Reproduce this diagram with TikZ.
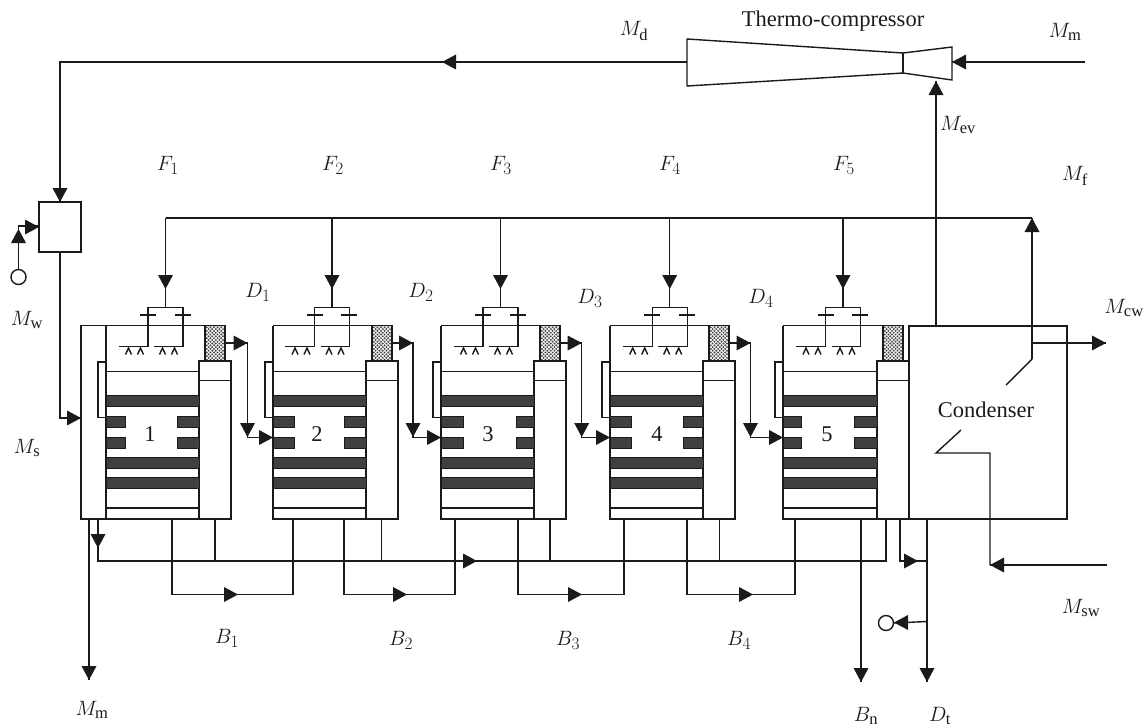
\documentclass[tikz,border=0pt]{standalone}
\usepackage{fontspec}
\setmainfont{Liberation Serif}
\DeclareMathSizes{21}{21}{16.5}{12}
\definecolor{ink}{HTML}{1A1A1A}
\definecolor{bar}{HTML}{404040}
\tikzset{
  pipe/.style={draw=ink,line width=1.4pt},
  barbox/.style={draw=ink,fill=bar,line width=1pt},
  lab/.style={inner sep=0pt,font=\fontsize{21}{24}\selectfont,text=ink},
  txt/.style={inner sep=0pt,font=\fontsize{22.5}{26}\selectfont,text=ink},
  openc/.style={draw=ink,line width=1.4pt,fill=white,circle,minimum size=15pt,inner sep=0pt}
}
\newcommand{\tipat}[3]{\fill[ink,shift={(#1,#2)},rotate=#3] (0,0)--(-14,7.5)--(-14,-7.5)--cycle;}
\newcommand{\meshat}[1]{%
  \begin{scope}
    \clip (#1,325.5) rectangle (#1+20,361);
    \fill[white] (#1,325.5) rectangle (#1+20,361);
    \foreach \i in {0,...,6}{\foreach \j in {0,...,10}{
      \fill[ink!80] (#1+\i*3.6,325.5+\j*3.6) circle (1.1);
      \fill[ink!80] (#1+\i*3.6+1.8,325.5+\j*3.6+1.8) circle (1.1);
    }}
  \end{scope}
  \draw[pipe] (#1,325.5) rectangle (#1+20,361);}
\begin{document}
\begin{tikzpicture}[x=1pt,y=-1pt]
\useasboundingbox (0,0) rectangle (1145,726);
% thermo-compressor
\draw[pipe] (687,39)--(903,53)--(952,47)--(952,80)--(903,73)--(687,86)--cycle;
\draw[pipe] (903,53)--(903,73);
\draw[pipe] (1085,62)--(952,62);\tipat{952}{62}{180}
\draw[pipe] (687,62)--(60,62)--(60,202);\tipat{442}{62}{180}\tipat{60}{202}{270}
% mixing box
\node[pipe,minimum width=42pt,minimum height=50pt,inner sep=0pt] (mix) at (60,227) {};
\node[openc] (cw) at (18.5,277) {};
\draw[pipe] (cw.north)--(18.5,226)--(39,226);\tipat{18.5}{229}{90}\tipat{39}{227}{0}
\draw[pipe] (mix.south)--(60,418)--(81,418);\tipat{81}{418}{0}
% feed header
\draw[pipe] (165.5,218)--(1032,218);
\draw[pipe] (81,325.5) rectangle (106,519);
% effects
\foreach \L/\F/\C/\lw/\rw/\num/\nx in {106/165.5/199/19/22/1/150,273/332/366/21/22/2/317,441/500.5/534/22/18/3/488,610/669.7/703/21/20/4/657,783/843/877/18/23/5/827}{
  \draw[pipe] (\F,218)--(\F,307);
  \tipat{\F}{289}{270}
  \draw[pipe] (\F-47,346.5)--(\F-17.5,346.5)--(\F-17.5,307.5)--(\F+17.5,307.5)--(\F+17.5,346.5)--(\F-11.5,346.5);
  \draw[pipe] (\F-25.5,315)--(\F-9.5,315) (\F+9,315)--(\F+25,315);
  \foreach \s in {-40,-28,-6,6}{
    \draw[pipe] (\F+\s,354.5)--(\F+\s+3,348)--(\F+\s+6,354.5);
  }
  \draw[pipe] (\L,325.5)--(\C+27,325.5);
  \draw[pipe] (\L,325.5)--(\L,519)--(\C,519);
  \draw[pipe] (\C,361)--(\C,519)--(\C+32,519)--(\C+32,361)--cycle;
  \draw[pipe] (\C,380.5)--(\C+32,380.5);
  \meshat{\C+6}
  \draw[pipe] (\L,371.5)--(\C,371.5);
  \draw[pipe] (\L,508)--(\C,508);
  \draw[pipe] (\L,362) rectangle (\L-8,417.5);
  \draw[barbox] (\L,395) rectangle (\C,406);
  \draw[barbox] (\L,457.5) rectangle (\C,468.5);
  \draw[barbox] (\L,477) rectangle (\C,488);
  \draw[barbox] (\L,416.5) rectangle (\L+\lw,427.5);
  \draw[barbox] (\L,437.5) rectangle (\L+\lw,448.5);
  \draw[barbox] (\C-\rw,416.5) rectangle (\C,427.5);
  \draw[barbox] (\C-\rw,437.5) rectangle (\C,448.5);
  \node[txt] (n\num) at (\nx,434) {\num};
}
% vapour links
\foreach \M/\V/\T in {226/247.5/273,392/413/441,560/581.7/610,729/750.5/783}{
  \draw[pipe] (\M,343)--(\V,343)--(\V,437.5)--(\T,437.5);
  \tipat{\V}{343}{0}\tipat{\V}{437}{270}\tipat{\T}{437.5}{0}
}
% condenser
\draw[pipe] (909,326) rectangle (1067,519);
\node[txt] (cond) at (986,410) {Condenser};
\draw[pipe] (936,326)--(936,81);\tipat{936}{81}{90}
\draw[pipe] (1032,359)--(1032,218);\tipat{1032}{218}{90}
\draw[pipe] (1006,385)--(1032,359);
\draw[pipe] (1032,343)--(1106,343);\tipat{1106}{343}{0}
\draw[pipe] (961,430)--(936,453)--(990,453)--(990,565);
\draw[pipe] (1107,565)--(990,565);\tipat{990}{565}{180}
% bottom pipes
\draw[pipe] (89,519)--(89,680);\tipat{89}{680}{270}
\draw[pipe] (98,519)--(98,561)--(886,561)--(886,519);\tipat{98}{548}{270}\tipat{477}{561}{0}
\foreach \S in {215,381.7,550,719.7}{\draw[pipe] (\S,519)--(\S,561);}
\foreach \A/\B/\T in {172/293/238,344/455/407,518/624/582,687/795/753}{
  \draw[pipe] (\A,519)--(\A,594.5)--(\B,594.5)--(\B,519);
  \tipat{\T}{594.5}{0}
}
\draw[pipe] (861,519)--(861,682);\tipat{861}{682}{270}
\draw[pipe] (927,519)--(927,682);\tipat{927}{682}{270}
\draw[pipe] (900,519)--(900,561)--(927,561);\tipat{918}{561}{0}
\node[openc] (drain) at (886,623) {};
\draw[pipe] (927,621.5)--(drain.east);\tipat{894}{622.5}{180}
% labels
\node[txt] (tc) at (833,21) {Thermo-compressor};
\node[lab] (md) at (634,31) {$M_{\mathrm{d}}$};
\node[lab] (mm) at (1065,32) {$M_{\mathrm{m}}$};
\node[lab] (mev) at (958,125) {$M_{\mathrm{ev}}$};
\node[lab] (mf) at (1075,176) {$M_{\mathrm{f}}$};
\node[lab] (f1) at (168,165) {$F_{1}$};
\node[lab] (f2) at (333,165) {$F_{2}$};
\node[lab] (f3) at (501,165) {$F_{3}$};
\node[lab] (f4) at (670,165) {$F_{4}$};
\node[lab] (f5) at (844,165) {$F_{5}$};
\node[lab] (d1) at (258,292) {$D_{1}$};
\node[lab] (d2) at (421,292) {$D_{2}$};
\node[lab] (d3) at (590,298) {$D_{3}$};
\node[lab] (d4) at (761,298) {$D_{4}$};
\node[lab] (mw) at (27,320) {$M_{\mathrm{w}}$};
\node[lab] (ms) at (27,448) {$M_{\mathrm{s}}$};
\node[lab] (mmb) at (92,710) {$M_{\mathrm{m}}$};
\node[lab] (b1) at (227,638) {$B_{1}$};
\node[lab] (b2) at (401,640) {$B_{2}$};
\node[lab] (b3) at (568,640) {$B_{3}$};
\node[lab] (b4) at (739,640) {$B_{4}$};
\node[lab] (bn) at (866,716) {$B_{\mathrm{n}}$};
\node[lab] (dt) at (940,716) {$D_{\mathrm{t}}$};
\node[lab] (msw) at (1081,608) {$M_{\mathrm{sw}}$};
\node[lab] (mcw) at (1124,308) {$M_{\mathrm{cw}}$};
\end{tikzpicture}
\end{document}
